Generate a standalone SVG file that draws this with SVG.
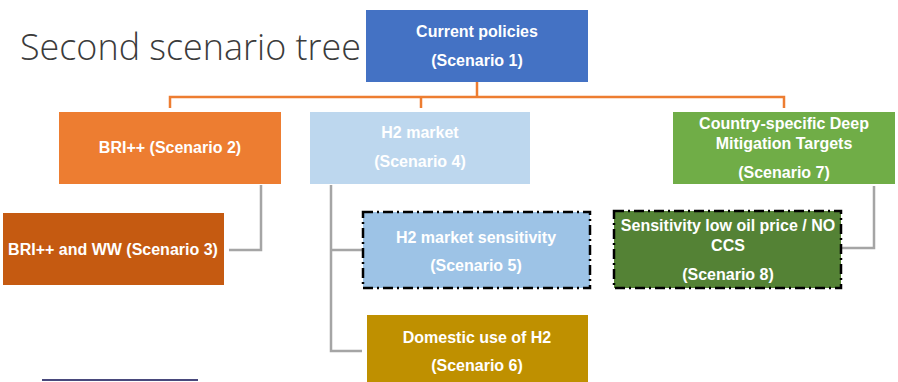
<svg xmlns="http://www.w3.org/2000/svg" width="898" height="382" viewBox="0 0 898 382">
<style>
.t{font-family:"Liberation Sans",Arial,sans-serif;font-weight:bold;font-size:16px;fill:#fff;text-anchor:middle}
.title{font-family:"Open Sans","Noto Sans",sans-serif;font-weight:300;font-size:37px;fill:#3b3b3b}
.oc{fill:none;stroke:#ed7d31;stroke-width:2.5}
.gc{fill:none;stroke:#a5a5a5;stroke-width:2.5}
.dd{stroke:#000;stroke-width:2.5;stroke-dasharray:10 4 2 4}
</style>
<rect width="898" height="382" fill="#fff"/>
<text class="title" x="20" y="60" textLength="341" lengthAdjust="spacingAndGlyphs">Second scenario tree</text>
<g id="connectors">
<path class="oc" d="M477 82V97M170 108V97H784V108M421 97V108"/>
<path class="gc" d="M261 185V250H229"/>
<path class="gc" d="M331 185V351H362M331 250H363"/>
<path class="gc" d="M874 186V248H842"/>
</g>
<g id="n1"><rect x="366" y="10" width="222" height="72" fill="#4472c4"/>
<text class="t" x="477" y="37">Current policies</text><text class="t" x="477" y="66">(Scenario 1)</text></g>
<g id="n2"><rect x="59" y="112" width="222" height="72" fill="#ed7d31"/>
<text class="t" x="170" y="153">BRI++ (Scenario 2)</text></g>
<g id="n4"><rect x="310" y="112" width="220" height="72" fill="#bdd7ee"/>
<text class="t" x="420" y="138">H2 market</text><text class="t" x="420" y="167">(Scenario 4)</text></g>
<g id="n7"><rect x="673" y="112" width="222" height="72" fill="#70ad47"/>
<text class="t" x="784" y="129">Country-specific Deep</text><text class="t" x="784" y="149">Mitigation Targets</text><text class="t" x="784" y="178">(Scenario 7)</text></g>
<g id="n3"><rect x="3" y="213" width="221" height="72" fill="#c55a11"/>
<text class="t" x="113" y="255">BRI++ and WW (Scenario 3)</text></g>
<g id="n5"><rect x="363" y="212" width="227" height="76" fill="#9dc3e6" class="dd"/>
<text class="t" x="476" y="243">H2 market sensitivity</text><text class="t" x="476" y="271">(Scenario 5)</text></g>
<g id="n8"><rect x="614" y="211" width="227" height="77" fill="#548235" class="dd"/>
<text class="t" x="728" y="231">Sensitivity low oil price / NO</text><text class="t" x="728" y="251">CCS</text><text class="t" x="728" y="280">(Scenario 8)</text></g>
<g id="n6"><rect x="367" y="315" width="221" height="68" fill="#bf9000"/>
<text class="t" x="477" y="343">Domestic use of H2</text><text class="t" x="477" y="371">(Scenario 6)</text></g>
<line x1="42" y1="380" x2="198" y2="380" stroke="#0d0d50" stroke-width="1.5"/>
</svg>
